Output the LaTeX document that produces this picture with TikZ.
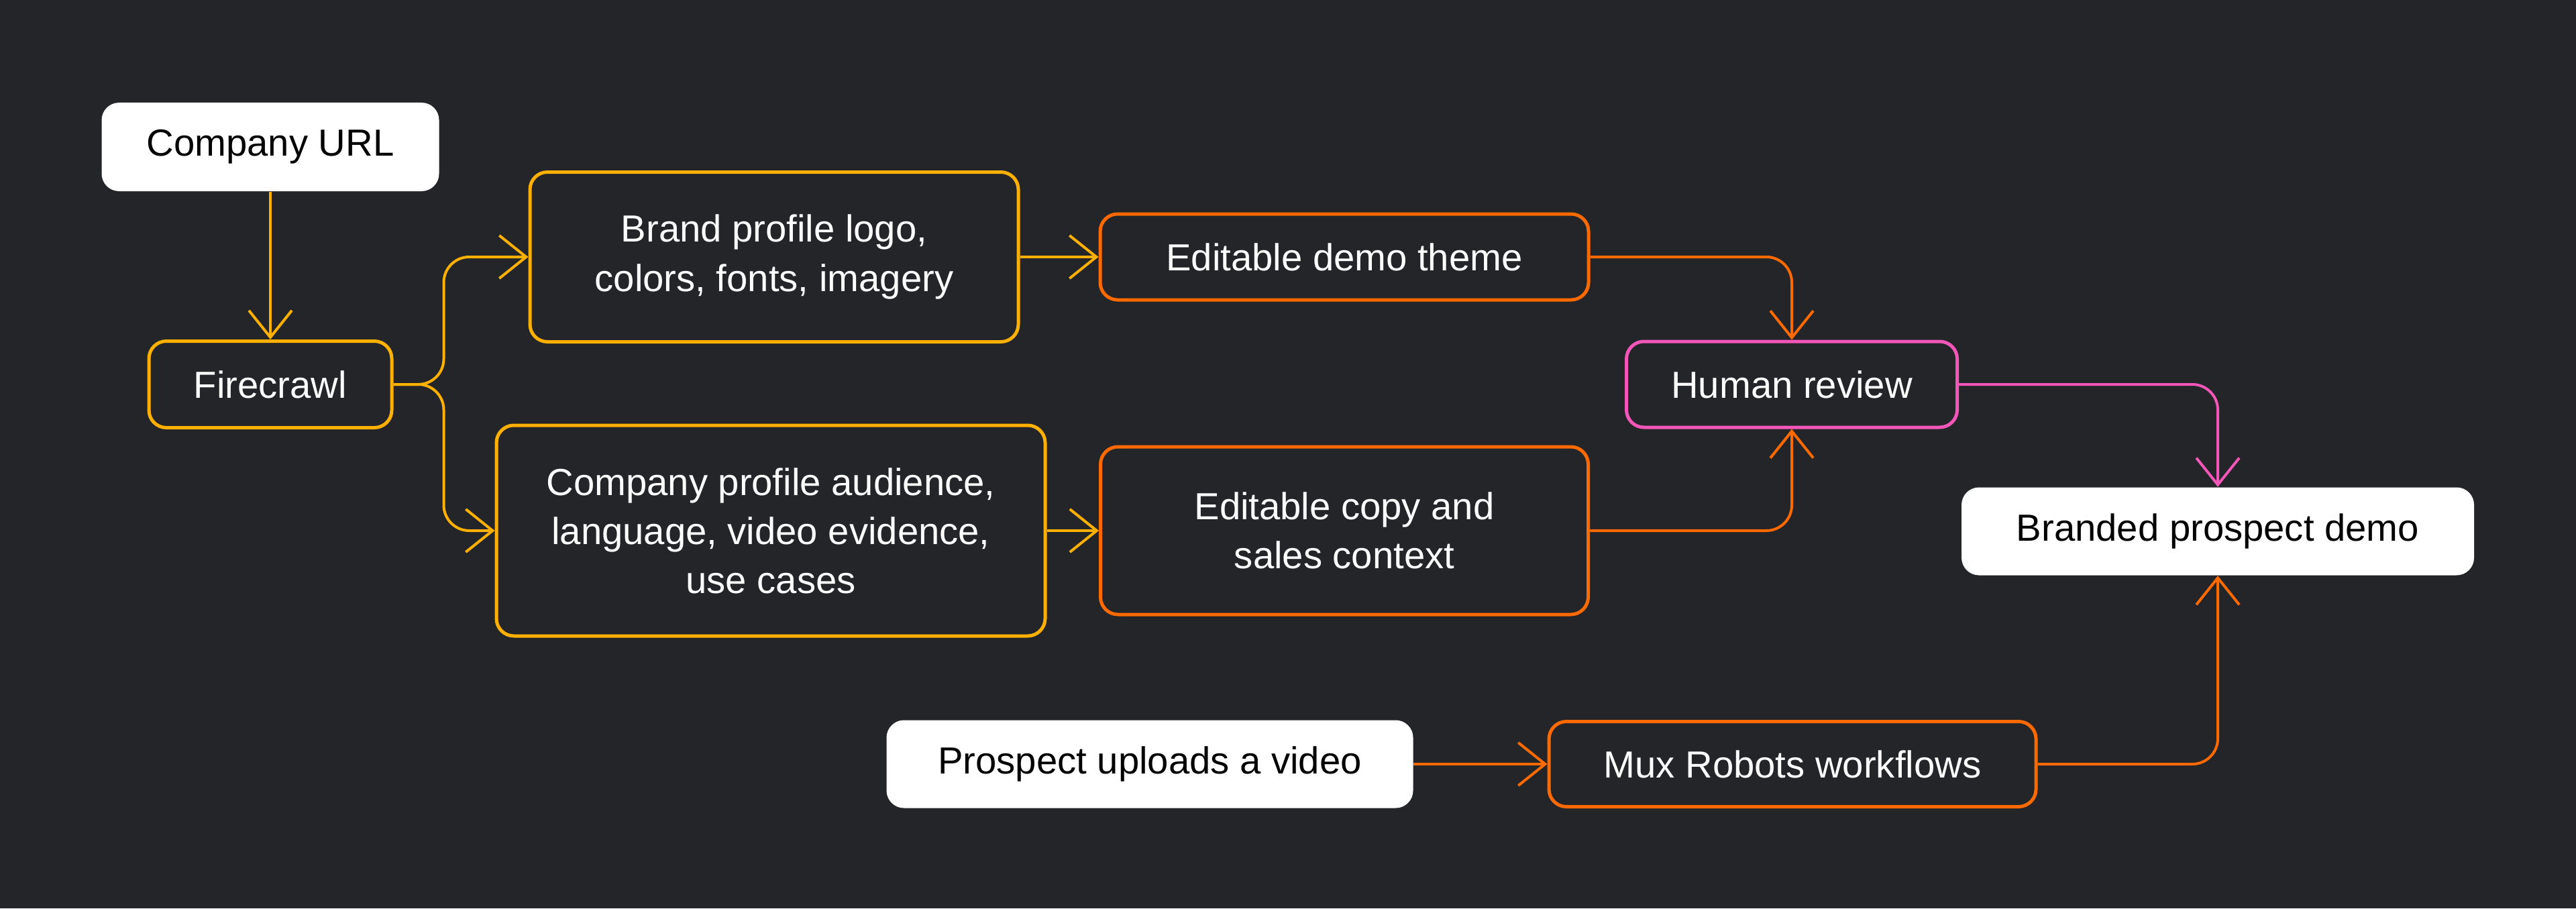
\documentclass[tikz,border=0pt]{standalone}
\usepackage{fontspec}
\setmainfont{Liberation Sans}
\usepackage{xcolor}
\usepackage{tikz}
\usetikzlibrary{shapes}
\usetikzlibrary{calc}
\usetikzlibrary{arrows.meta}
\definecolor{bggray}{HTML}{242528}
\definecolor{amber}{HTML}{FFB000}
\definecolor{tangerine}{HTML}{FF6A00}
\definecolor{rosepink}{HTML}{F256B8}
\tikzset{ box_base/.style = {rectangle, rounded corners=0.26cm, align=center, inner sep=0pt, font=\fontsize{16}{20.8}\selectfont} }
\tikzset{ light_box/.style = {box_base, fill=white, text=black} }
\tikzset{ dark_box/.style = {box_base, fill=bggray, text=white, draw=#1, line width=0.05cm} }
\tikzset{ flow/.style = {draw=#1, line width=0.04cm, rounded corners=0.38cm, -{Straight Barb[length=0.4cm,width=0.64cm]}} }

\begin{document}
\begin{tikzpicture}
            \fill[bggray] (0, 0) rectangle (38.4, -13.54);
            \useasboundingbox (0, 0) rectangle (38.4, -13.54);
            \node [light_box, minimum width=5.03cm, minimum height=1.32cm] (url) at (4.03, -2.19) {Company URL};
            \node [dark_box=amber, minimum width=3.62cm, minimum height=1.29cm] (fire) at (4.03, -5.73) {Firecrawl};
            \node [dark_box=amber, minimum width=7.28cm, minimum height=2.53cm] (brand) at (11.54, -3.83) {Brand profile logo,\\colors, fonts, imagery};
            \node [dark_box=amber, minimum width=8.18cm, minimum height=3.14cm] (cprof) at (11.49, -7.91) {Company profile audience,\\language, video evidence,\\use cases};
            \node [dark_box=tangerine, minimum width=7.28cm, minimum height=1.28cm] (theme) at (20.04, -3.83) {Editable demo theme};
            \node [dark_box=tangerine, minimum width=7.27cm, minimum height=2.50cm] (copy) at (20.04, -7.91) {Editable copy and\\sales context};
            \node [dark_box=rosepink, minimum width=4.93cm, minimum height=1.28cm] (human) at (26.71, -5.73) {Human review};
            \node [light_box, minimum width=7.64cm, minimum height=1.31cm] (branded) at (33.06, -7.92) {Branded prospect demo};
            \node [light_box, minimum width=7.85cm, minimum height=1.31cm] (upload) at (17.14, -11.39) {Prospect uploads a video};
            \node [dark_box=tangerine, minimum width=7.26cm, minimum height=1.27cm] (mux) at (26.72, -11.39) {Mux Robots workflows};
            \draw[flow=amber] (url) -- (fire);
            \draw[flow=amber] (fire.east) -- ++(0.75, 0) |- (brand.west);
            \draw[flow=amber] (fire.east) -- ++(0.75, 0) |- (cprof.west);
            \draw[flow=amber] (brand) -- (theme);
            \draw[flow=amber] (cprof) -- (copy);
            \draw[flow=tangerine] (theme.east) -| (human.north);
            \draw[flow=tangerine] (copy.east) -| (human.south);
            \draw[flow=rosepink] (human.east) -| (branded.north);
            \draw[flow=tangerine] (upload) -- (mux);
            \draw[flow=tangerine] (mux.east) -| (branded.south);
        \end{tikzpicture}
\end{document}
